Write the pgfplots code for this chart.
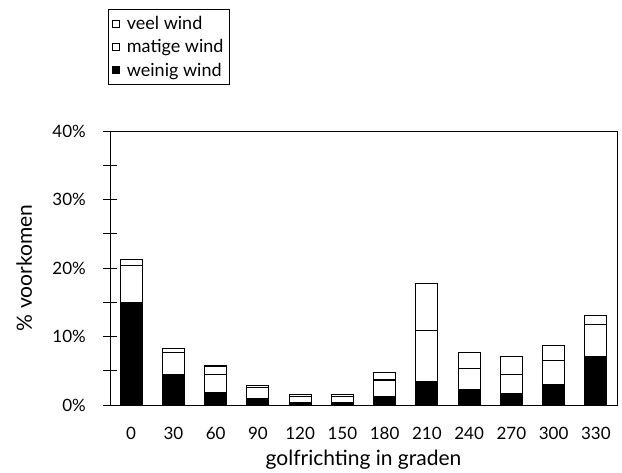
\documentclass[border=0pt]{standalone}
\usepackage{fontspec}
\setmainfont{Lato}
\usepackage{pgfplots}
\pgfplotsset{compat=1.18}
\begin{document}
\begin{tikzpicture}
\begin{axis}[
  scale only axis,
  width=507pt, height=274pt,
  ybar stacked, bar width=22pt,
  xmin=-0.5, xmax=11.5, ymin=0, ymax=40,
  xtick={0,...,11},
  xticklabels={0,30,60,90,120,150,180,210,240,270,300,330},
  xtick style={draw=none},
  ytick={0,10,20,30,40},
  minor ytick={5,15,25,35},
  ytick pos=left,
  tick align=center,
  major tick length=14pt, minor tick length=14pt,
  every tick/.style={black, line width=0.9pt},
  yticklabel={\pgfmathprintnumber{\tick}\%},
  /pgf/number format/assume math mode=true,
  ticklabel style={font=\fontsize{17pt}{20pt}\selectfont},
  xticklabel style={anchor=north, inner sep=0pt, yshift=-15pt},
  yticklabel style={anchor=east, inner sep=0pt, xshift=-17pt},
  axis line style={line width=0.9pt},
  xlabel={golfrichting in graden},
  ylabel={\% voorkomen},
  label style={font=\fontsize{21pt}{24pt}\selectfont},
  xlabel style={at={(axis description cs:0.5,-0.219)}, anchor=base, inner sep=0pt},
  ylabel style={at={(axis description cs:-0.154,0.5)}, anchor=base, inner sep=0pt},
  reverse legend,
  legend cell align=left,
  legend style={at={(-0.004,1.445)}, anchor=north west, draw=black, line width=0.6pt,
    font=\fontsize{18pt}{21pt}\selectfont, row sep=4.5pt, inner xsep=4pt, inner ysep=5pt,
    nodes={inner sep=2pt},
    /tikz/every odd column/.append style={column sep=5pt}},
  legend image code/.code={\draw[#1, line width=0.6pt] (0pt,-3.5pt) rectangle (7pt,3.5pt);},
  every axis plot/.append style={draw=black, line width=1.1pt},
]
\addplot[fill=black] coordinates {(0,14.9) (1,4.5) (2,1.75) (3,1.0) (4,0.3) (5,0.3) (6,1.3) (7,3.4) (8,2.2) (9,1.7) (10,3.0) (11,7.05)};
\addplot[fill=white] coordinates {(0,5.5) (1,3.2) (2,2.65) (3,1.5) (4,0.9) (5,0.9) (6,2.35) (7,7.5) (8,3.1) (9,2.8) (10,3.5) (11,4.65)};
\addplot[fill=white] coordinates {(0,0.9) (1,0.6) (2,1.3) (3,0.4) (4,0.35) (5,0.3) (6,1.15) (7,6.9) (8,2.4) (9,2.6) (10,2.2) (11,1.4)};
\legend{weinig wind, matige wind, veel wind}
\coordinate (bl) at (rel axis cs:0,0);
\end{axis}
\pgfresetboundingbox
\path[shift={(bl)}] (-110pt,-67pt) rectangle (512pt,405pt);
\end{tikzpicture}
\end{document}
